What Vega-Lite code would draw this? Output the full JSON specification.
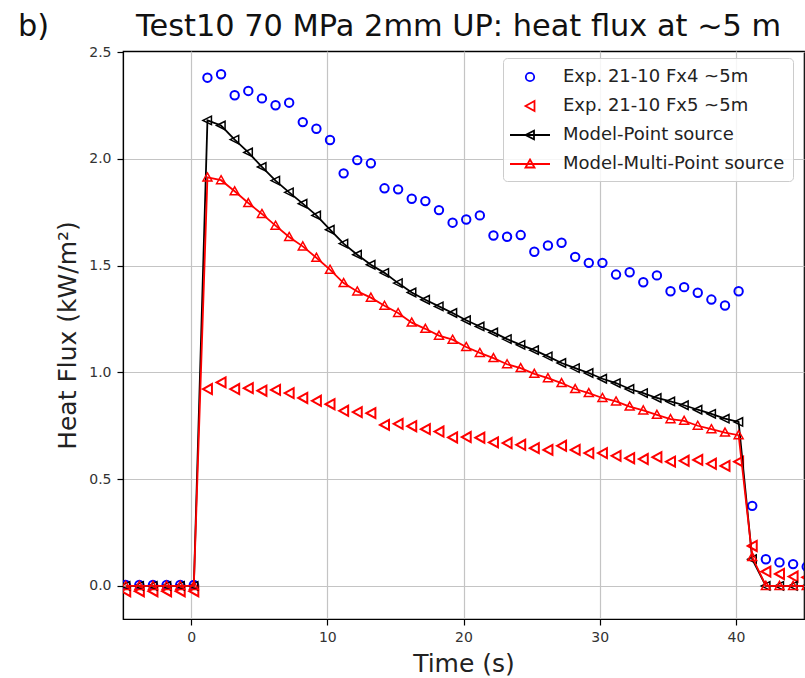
{
  "$schema": "https://vega.github.io/schema/vega-lite/v6.json",
  "width": 681,
  "height": 568,
  "autosize": "none",
  "padding": {"left": 123, "top": 51, "right": 1, "bottom": 59},
  "title": {
    "text": "b)\u00a0\u00a0\u00a0\u00a0\u00a0\u00a0\u00a0\u00a0\u00a0Test10 70 MPa 2mm UP: heat flux at ~5 m",
    "anchor": "start",
    "frame": "group",
    "dx": -105,
    "dy": 32,
    "fontSize": 30.4,
    "font": "DejaVu Sans",
    "fontWeight": "normal",
    "color": "#111111",
    "baseline": "alphabetic",
    "offset": 11
  },
  "datasets": {
    "exp": [
      {"t": -4.8, "v": 0.005, "series": "Exp. 21-10 Fx4 ~5m"},
      {"t": -3.8, "v": 0.005, "series": "Exp. 21-10 Fx4 ~5m"},
      {"t": -2.8, "v": 0.005, "series": "Exp. 21-10 Fx4 ~5m"},
      {"t": -1.8, "v": 0.005, "series": "Exp. 21-10 Fx4 ~5m"},
      {"t": -0.8, "v": 0.005, "series": "Exp. 21-10 Fx4 ~5m"},
      {"t": 0.2, "v": 0.005, "series": "Exp. 21-10 Fx4 ~5m"},
      {"t": 1.2, "v": 2.380, "series": "Exp. 21-10 Fx4 ~5m"},
      {"t": 2.2, "v": 2.396, "series": "Exp. 21-10 Fx4 ~5m"},
      {"t": 3.2, "v": 2.298, "series": "Exp. 21-10 Fx4 ~5m"},
      {"t": 4.2, "v": 2.318, "series": "Exp. 21-10 Fx4 ~5m"},
      {"t": 5.2, "v": 2.283, "series": "Exp. 21-10 Fx4 ~5m"},
      {"t": 6.2, "v": 2.251, "series": "Exp. 21-10 Fx4 ~5m"},
      {"t": 7.2, "v": 2.263, "series": "Exp. 21-10 Fx4 ~5m"},
      {"t": 8.2, "v": 2.172, "series": "Exp. 21-10 Fx4 ~5m"},
      {"t": 9.2, "v": 2.141, "series": "Exp. 21-10 Fx4 ~5m"},
      {"t": 10.2, "v": 2.088, "series": "Exp. 21-10 Fx4 ~5m"},
      {"t": 11.2, "v": 1.932, "series": "Exp. 21-10 Fx4 ~5m"},
      {"t": 12.2, "v": 1.994, "series": "Exp. 21-10 Fx4 ~5m"},
      {"t": 13.2, "v": 1.979, "series": "Exp. 21-10 Fx4 ~5m"},
      {"t": 14.2, "v": 1.862, "series": "Exp. 21-10 Fx4 ~5m"},
      {"t": 15.2, "v": 1.857, "series": "Exp. 21-10 Fx4 ~5m"},
      {"t": 16.2, "v": 1.813, "series": "Exp. 21-10 Fx4 ~5m"},
      {"t": 17.2, "v": 1.802, "series": "Exp. 21-10 Fx4 ~5m"},
      {"t": 18.2, "v": 1.760, "series": "Exp. 21-10 Fx4 ~5m"},
      {"t": 19.2, "v": 1.701, "series": "Exp. 21-10 Fx4 ~5m"},
      {"t": 20.2, "v": 1.716, "series": "Exp. 21-10 Fx4 ~5m"},
      {"t": 21.2, "v": 1.735, "series": "Exp. 21-10 Fx4 ~5m"},
      {"t": 22.2, "v": 1.641, "series": "Exp. 21-10 Fx4 ~5m"},
      {"t": 23.2, "v": 1.635, "series": "Exp. 21-10 Fx4 ~5m"},
      {"t": 24.2, "v": 1.643, "series": "Exp. 21-10 Fx4 ~5m"},
      {"t": 25.2, "v": 1.565, "series": "Exp. 21-10 Fx4 ~5m"},
      {"t": 26.2, "v": 1.594, "series": "Exp. 21-10 Fx4 ~5m"},
      {"t": 27.2, "v": 1.607, "series": "Exp. 21-10 Fx4 ~5m"},
      {"t": 28.2, "v": 1.541, "series": "Exp. 21-10 Fx4 ~5m"},
      {"t": 29.2, "v": 1.513, "series": "Exp. 21-10 Fx4 ~5m"},
      {"t": 30.2, "v": 1.513, "series": "Exp. 21-10 Fx4 ~5m"},
      {"t": 31.2, "v": 1.458, "series": "Exp. 21-10 Fx4 ~5m"},
      {"t": 32.2, "v": 1.469, "series": "Exp. 21-10 Fx4 ~5m"},
      {"t": 33.2, "v": 1.422, "series": "Exp. 21-10 Fx4 ~5m"},
      {"t": 34.2, "v": 1.454, "series": "Exp. 21-10 Fx4 ~5m"},
      {"t": 35.2, "v": 1.380, "series": "Exp. 21-10 Fx4 ~5m"},
      {"t": 36.2, "v": 1.399, "series": "Exp. 21-10 Fx4 ~5m"},
      {"t": 37.2, "v": 1.373, "series": "Exp. 21-10 Fx4 ~5m"},
      {"t": 38.2, "v": 1.341, "series": "Exp. 21-10 Fx4 ~5m"},
      {"t": 39.2, "v": 1.313, "series": "Exp. 21-10 Fx4 ~5m"},
      {"t": 40.2, "v": 1.380, "series": "Exp. 21-10 Fx4 ~5m"},
      {"t": 41.2, "v": 0.375, "series": "Exp. 21-10 Fx4 ~5m"},
      {"t": 42.2, "v": 0.125, "series": "Exp. 21-10 Fx4 ~5m"},
      {"t": 43.2, "v": 0.110, "series": "Exp. 21-10 Fx4 ~5m"},
      {"t": 44.2, "v": 0.102, "series": "Exp. 21-10 Fx4 ~5m"},
      {"t": 45.2, "v": 0.090, "series": "Exp. 21-10 Fx4 ~5m"},
      {"t": -4.8, "v": -0.025, "series": "Exp. 21-10 Fx5 ~5m"},
      {"t": -3.8, "v": -0.025, "series": "Exp. 21-10 Fx5 ~5m"},
      {"t": -2.8, "v": -0.025, "series": "Exp. 21-10 Fx5 ~5m"},
      {"t": -1.8, "v": -0.025, "series": "Exp. 21-10 Fx5 ~5m"},
      {"t": -0.8, "v": -0.025, "series": "Exp. 21-10 Fx5 ~5m"},
      {"t": 0.2, "v": -0.025, "series": "Exp. 21-10 Fx5 ~5m"},
      {"t": 1.2, "v": 0.922, "series": "Exp. 21-10 Fx5 ~5m"},
      {"t": 2.2, "v": 0.953, "series": "Exp. 21-10 Fx5 ~5m"},
      {"t": 3.2, "v": 0.922, "series": "Exp. 21-10 Fx5 ~5m"},
      {"t": 4.2, "v": 0.926, "series": "Exp. 21-10 Fx5 ~5m"},
      {"t": 5.2, "v": 0.914, "series": "Exp. 21-10 Fx5 ~5m"},
      {"t": 6.2, "v": 0.918, "series": "Exp. 21-10 Fx5 ~5m"},
      {"t": 7.2, "v": 0.903, "series": "Exp. 21-10 Fx5 ~5m"},
      {"t": 8.2, "v": 0.880, "series": "Exp. 21-10 Fx5 ~5m"},
      {"t": 9.2, "v": 0.867, "series": "Exp. 21-10 Fx5 ~5m"},
      {"t": 10.2, "v": 0.851, "series": "Exp. 21-10 Fx5 ~5m"},
      {"t": 11.2, "v": 0.820, "series": "Exp. 21-10 Fx5 ~5m"},
      {"t": 12.2, "v": 0.814, "series": "Exp. 21-10 Fx5 ~5m"},
      {"t": 13.2, "v": 0.809, "series": "Exp. 21-10 Fx5 ~5m"},
      {"t": 14.2, "v": 0.754, "series": "Exp. 21-10 Fx5 ~5m"},
      {"t": 15.2, "v": 0.759, "series": "Exp. 21-10 Fx5 ~5m"},
      {"t": 16.2, "v": 0.748, "series": "Exp. 21-10 Fx5 ~5m"},
      {"t": 17.2, "v": 0.734, "series": "Exp. 21-10 Fx5 ~5m"},
      {"t": 18.2, "v": 0.723, "series": "Exp. 21-10 Fx5 ~5m"},
      {"t": 19.2, "v": 0.695, "series": "Exp. 21-10 Fx5 ~5m"},
      {"t": 20.2, "v": 0.697, "series": "Exp. 21-10 Fx5 ~5m"},
      {"t": 21.2, "v": 0.694, "series": "Exp. 21-10 Fx5 ~5m"},
      {"t": 22.2, "v": 0.672, "series": "Exp. 21-10 Fx5 ~5m"},
      {"t": 23.2, "v": 0.669, "series": "Exp. 21-10 Fx5 ~5m"},
      {"t": 24.2, "v": 0.661, "series": "Exp. 21-10 Fx5 ~5m"},
      {"t": 25.2, "v": 0.645, "series": "Exp. 21-10 Fx5 ~5m"},
      {"t": 26.2, "v": 0.637, "series": "Exp. 21-10 Fx5 ~5m"},
      {"t": 27.2, "v": 0.656, "series": "Exp. 21-10 Fx5 ~5m"},
      {"t": 28.2, "v": 0.637, "series": "Exp. 21-10 Fx5 ~5m"},
      {"t": 29.2, "v": 0.622, "series": "Exp. 21-10 Fx5 ~5m"},
      {"t": 30.2, "v": 0.622, "series": "Exp. 21-10 Fx5 ~5m"},
      {"t": 31.2, "v": 0.609, "series": "Exp. 21-10 Fx5 ~5m"},
      {"t": 32.2, "v": 0.598, "series": "Exp. 21-10 Fx5 ~5m"},
      {"t": 33.2, "v": 0.594, "series": "Exp. 21-10 Fx5 ~5m"},
      {"t": 34.2, "v": 0.603, "series": "Exp. 21-10 Fx5 ~5m"},
      {"t": 35.2, "v": 0.582, "series": "Exp. 21-10 Fx5 ~5m"},
      {"t": 36.2, "v": 0.586, "series": "Exp. 21-10 Fx5 ~5m"},
      {"t": 37.2, "v": 0.590, "series": "Exp. 21-10 Fx5 ~5m"},
      {"t": 38.2, "v": 0.572, "series": "Exp. 21-10 Fx5 ~5m"},
      {"t": 39.2, "v": 0.562, "series": "Exp. 21-10 Fx5 ~5m"},
      {"t": 40.2, "v": 0.582, "series": "Exp. 21-10 Fx5 ~5m"},
      {"t": 41.2, "v": 0.187, "series": "Exp. 21-10 Fx5 ~5m"},
      {"t": 42.2, "v": 0.067, "series": "Exp. 21-10 Fx5 ~5m"},
      {"t": 43.2, "v": 0.056, "series": "Exp. 21-10 Fx5 ~5m"},
      {"t": 44.2, "v": 0.044, "series": "Exp. 21-10 Fx5 ~5m"},
      {"t": 45.2, "v": 0.040, "series": "Exp. 21-10 Fx5 ~5m"}
    ],
    "model": [
      {"t": -4.8, "v": 0, "series": "Model-Point source"},
      {"t": -3.8, "v": 0, "series": "Model-Point source"},
      {"t": -2.8, "v": 0, "series": "Model-Point source"},
      {"t": -1.8, "v": 0, "series": "Model-Point source"},
      {"t": -0.8, "v": 0, "series": "Model-Point source"},
      {"t": 0.2, "v": 0, "series": "Model-Point source"},
      {"t": 1.2, "v": 2.180, "series": "Model-Point source"},
      {"t": 2.2, "v": 2.156, "series": "Model-Point source"},
      {"t": 3.2, "v": 2.090, "series": "Model-Point source"},
      {"t": 4.2, "v": 2.030, "series": "Model-Point source"},
      {"t": 5.2, "v": 1.962, "series": "Model-Point source"},
      {"t": 6.2, "v": 1.898, "series": "Model-Point source"},
      {"t": 7.2, "v": 1.843, "series": "Model-Point source"},
      {"t": 8.2, "v": 1.790, "series": "Model-Point source"},
      {"t": 9.2, "v": 1.735, "series": "Model-Point source"},
      {"t": 10.2, "v": 1.668, "series": "Model-Point source"},
      {"t": 11.2, "v": 1.603, "series": "Model-Point source"},
      {"t": 12.2, "v": 1.551, "series": "Model-Point source"},
      {"t": 13.2, "v": 1.504, "series": "Model-Point source"},
      {"t": 14.2, "v": 1.466, "series": "Model-Point source"},
      {"t": 15.2, "v": 1.418, "series": "Model-Point source"},
      {"t": 16.2, "v": 1.374, "series": "Model-Point source"},
      {"t": 17.2, "v": 1.340, "series": "Model-Point source"},
      {"t": 18.2, "v": 1.309, "series": "Model-Point source"},
      {"t": 19.2, "v": 1.278, "series": "Model-Point source"},
      {"t": 20.2, "v": 1.244, "series": "Model-Point source"},
      {"t": 21.2, "v": 1.215, "series": "Model-Point source"},
      {"t": 22.2, "v": 1.187, "series": "Model-Point source"},
      {"t": 23.2, "v": 1.156, "series": "Model-Point source"},
      {"t": 24.2, "v": 1.129, "series": "Model-Point source"},
      {"t": 25.2, "v": 1.104, "series": "Model-Point source"},
      {"t": 26.2, "v": 1.075, "series": "Model-Point source"},
      {"t": 27.2, "v": 1.044, "series": "Model-Point source"},
      {"t": 28.2, "v": 1.020, "series": "Model-Point source"},
      {"t": 29.2, "v": 0.997, "series": "Model-Point source"},
      {"t": 30.2, "v": 0.970, "series": "Model-Point source"},
      {"t": 31.2, "v": 0.950, "series": "Model-Point source"},
      {"t": 32.2, "v": 0.922, "series": "Model-Point source"},
      {"t": 33.2, "v": 0.903, "series": "Model-Point source"},
      {"t": 34.2, "v": 0.880, "series": "Model-Point source"},
      {"t": 35.2, "v": 0.864, "series": "Model-Point source"},
      {"t": 36.2, "v": 0.846, "series": "Model-Point source"},
      {"t": 37.2, "v": 0.825, "series": "Model-Point source"},
      {"t": 38.2, "v": 0.806, "series": "Model-Point source"},
      {"t": 39.2, "v": 0.783, "series": "Model-Point source"},
      {"t": 40.2, "v": 0.768, "series": "Model-Point source"},
      {"t": 41.2, "v": 0.125, "series": "Model-Point source"},
      {"t": 42.2, "v": 0.0, "series": "Model-Point source"},
      {"t": 43.2, "v": 0.0, "series": "Model-Point source"},
      {"t": 44.2, "v": 0.0, "series": "Model-Point source"},
      {"t": 45.2, "v": 0.0, "series": "Model-Point source"},
      {"t": -4.8, "v": 0, "series": "Model-Multi-Point source"},
      {"t": -3.8, "v": 0, "series": "Model-Multi-Point source"},
      {"t": -2.8, "v": 0, "series": "Model-Multi-Point source"},
      {"t": -1.8, "v": 0, "series": "Model-Multi-Point source"},
      {"t": -0.8, "v": 0, "series": "Model-Multi-Point source"},
      {"t": 0.2, "v": 0, "series": "Model-Multi-Point source"},
      {"t": 1.2, "v": 1.913, "series": "Model-Multi-Point source"},
      {"t": 2.2, "v": 1.900, "series": "Model-Multi-Point source"},
      {"t": 3.2, "v": 1.848, "series": "Model-Multi-Point source"},
      {"t": 4.2, "v": 1.793, "series": "Model-Multi-Point source"},
      {"t": 5.2, "v": 1.742, "series": "Model-Multi-Point source"},
      {"t": 6.2, "v": 1.687, "series": "Model-Multi-Point source"},
      {"t": 7.2, "v": 1.634, "series": "Model-Multi-Point source"},
      {"t": 8.2, "v": 1.590, "series": "Model-Multi-Point source"},
      {"t": 9.2, "v": 1.537, "series": "Model-Multi-Point source"},
      {"t": 10.2, "v": 1.481, "series": "Model-Multi-Point source"},
      {"t": 11.2, "v": 1.418, "series": "Model-Multi-Point source"},
      {"t": 12.2, "v": 1.379, "series": "Model-Multi-Point source"},
      {"t": 13.2, "v": 1.350, "series": "Model-Multi-Point source"},
      {"t": 14.2, "v": 1.312, "series": "Model-Multi-Point source"},
      {"t": 15.2, "v": 1.278, "series": "Model-Multi-Point source"},
      {"t": 16.2, "v": 1.233, "series": "Model-Multi-Point source"},
      {"t": 17.2, "v": 1.204, "series": "Model-Multi-Point source"},
      {"t": 18.2, "v": 1.172, "series": "Model-Multi-Point source"},
      {"t": 19.2, "v": 1.153, "series": "Model-Multi-Point source"},
      {"t": 20.2, "v": 1.119, "series": "Model-Multi-Point source"},
      {"t": 21.2, "v": 1.091, "series": "Model-Multi-Point source"},
      {"t": 22.2, "v": 1.067, "series": "Model-Multi-Point source"},
      {"t": 23.2, "v": 1.038, "series": "Model-Multi-Point source"},
      {"t": 24.2, "v": 1.020, "series": "Model-Multi-Point source"},
      {"t": 25.2, "v": 0.993, "series": "Model-Multi-Point source"},
      {"t": 26.2, "v": 0.973, "series": "Model-Multi-Point source"},
      {"t": 27.2, "v": 0.950, "series": "Model-Multi-Point source"},
      {"t": 28.2, "v": 0.922, "series": "Model-Multi-Point source"},
      {"t": 29.2, "v": 0.903, "series": "Model-Multi-Point source"},
      {"t": 30.2, "v": 0.880, "series": "Model-Multi-Point source"},
      {"t": 31.2, "v": 0.864, "series": "Model-Multi-Point source"},
      {"t": 32.2, "v": 0.840, "series": "Model-Multi-Point source"},
      {"t": 33.2, "v": 0.822, "series": "Model-Multi-Point source"},
      {"t": 34.2, "v": 0.801, "series": "Model-Multi-Point source"},
      {"t": 35.2, "v": 0.781, "series": "Model-Multi-Point source"},
      {"t": 36.2, "v": 0.773, "series": "Model-Multi-Point source"},
      {"t": 37.2, "v": 0.750, "series": "Model-Multi-Point source"},
      {"t": 38.2, "v": 0.734, "series": "Model-Multi-Point source"},
      {"t": 39.2, "v": 0.718, "series": "Model-Multi-Point source"},
      {"t": 40.2, "v": 0.706, "series": "Model-Multi-Point source"},
      {"t": 41.2, "v": 0.135, "series": "Model-Multi-Point source"},
      {"t": 42.2, "v": 0.0, "series": "Model-Multi-Point source"},
      {"t": 43.2, "v": 0.0, "series": "Model-Multi-Point source"},
      {"t": 44.2, "v": 0.0, "series": "Model-Multi-Point source"},
      {"t": 45.2, "v": 0.0, "series": "Model-Multi-Point source"}
    ]
  },
  "encoding": {
    "x": {
      "field": "t", "type": "quantitative",
      "scale": {"domain": [-5, 45], "nice": false, "zero": false},
      "axis": {"title": "Time (s)", "values": [0, 10, 20, 30, 40], "format": "d"}
    },
    "y": {
      "field": "v", "type": "quantitative",
      "scale": {"domain": [-0.155, 2.505], "nice": false, "zero": false},
      "axis": {"title": "Heat Flux (kW/m²)", "values": [0, 0.5, 1, 1.5, 2, 2.5], "format": ".1f"}
    }
  },
  "layer": [
    {
      "data": {"name": "exp"},
      "mark": {"type": "point", "filled": false, "size": 400, "strokeWidth": 2, "opacity": 1, "clip": true},
      "encoding": {
        "color": {
          "field": "series", "type": "nominal",
          "scale": {
            "domain": ["Exp. 21-10 Fx4 ~5m", "Exp. 21-10 Fx5 ~5m", "Model-Point source", "Model-Multi-Point source"],
            "range": ["#0000ff", "#ff0000", "#000000", "#ff0000"]
          },
          "legend": {"title": null}
        },
        "shape": {
          "field": "series", "type": "nominal",
          "scale": {
            "domain": ["Exp. 21-10 Fx4 ~5m", "Exp. 21-10 Fx5 ~5m", "Model-Point source", "Model-Multi-Point source"],
            "range": [
              "M-0.42,0A0.42,0.42,0,1,0,0.42,0A0.42,0.42,0,1,0,-0.42,0Z",
              "M-0.45,0L0.45,-0.5L0.45,0.5Z",
              "M-2,0L2,0M-0.45,0L0.4,-0.42L0.4,0.42Z",
              "M-2,0L2,0M0,-0.45L0.45,0.35L-0.45,0.35Z"
            ]
          },
          "legend": {"title": null}
        }
      }
    },
    {
      "data": {"name": "model"},
      "transform": [{"filter": "datum.series === 'Model-Point source'"}],
      "mark": {"type": "line", "color": "#000000", "strokeWidth": 1.8, "clip": true}
    },
    {
      "data": {"name": "model"},
      "transform": [{"filter": "datum.series === 'Model-Point source'"}],
      "mark": {"type": "point", "filled": false, "size": 400, "strokeWidth": 1.5, "opacity": 1, "color": "#000000", "shape": "M-0.45,0L0.4,-0.42L0.4,0.42Z", "clip": true}
    },
    {
      "data": {"name": "model"},
      "transform": [{"filter": "datum.series === 'Model-Multi-Point source'"}],
      "mark": {"type": "line", "color": "#ff0000", "strokeWidth": 1.8, "clip": true}
    },
    {
      "data": {"name": "model"},
      "transform": [{"filter": "datum.series === 'Model-Multi-Point source'"}],
      "mark": {"type": "point", "filled": false, "size": 400, "strokeWidth": 1.5, "opacity": 1, "color": "#ff0000", "shape": "M0,-0.45L0.45,0.35L-0.45,0.35Z", "clip": true}
    }
  ],
  "config": {
    "font": "DejaVu Sans",
    "view": {"stroke": "#000000", "strokeWidth": 1.2},
    "axis": {
      "grid": true,
      "gridColor": "#c4c4c4",
      "gridWidth": 1.2,
      "domainColor": "#000000",
      "domainWidth": 1.2,
      "tickColor": "#000000",
      "tickSize": 6,
      "tickWidth": 1.2,
      "labelFontSize": 14,
      "labelColor": "#333333",
      "labelFont": "DejaVu Sans",
      "titleFont": "DejaVu Sans",
      "titleFontWeight": "normal",
      "titleColor": "#222222",
      "titleFontSize": 25
    },
    "axisX": {"labelPadding": 5, "titlePadding": 7},
    "axisY": {"labelPadding": 6, "titlePadding": 8},
    "legend": {
      "orient": "none",
      "legendX": 380,
      "legendY": 7,
      "labelFontSize": 18,
      "labelFont": "DejaVu Sans",
      "labelColor": "#222222",
      "labelLimit": 400,
      "symbolSize": 400,
      "symbolStrokeWidth": 1.8,
      "symbolOffset": 8,
      "labelOffset": 22,
      "rowPadding": 9,
      "padding": 8,
      "fillColor": "rgba(255,255,255,0.85)",
      "strokeColor": "#cccccc",
      "cornerRadius": 4
    }
  }
}
